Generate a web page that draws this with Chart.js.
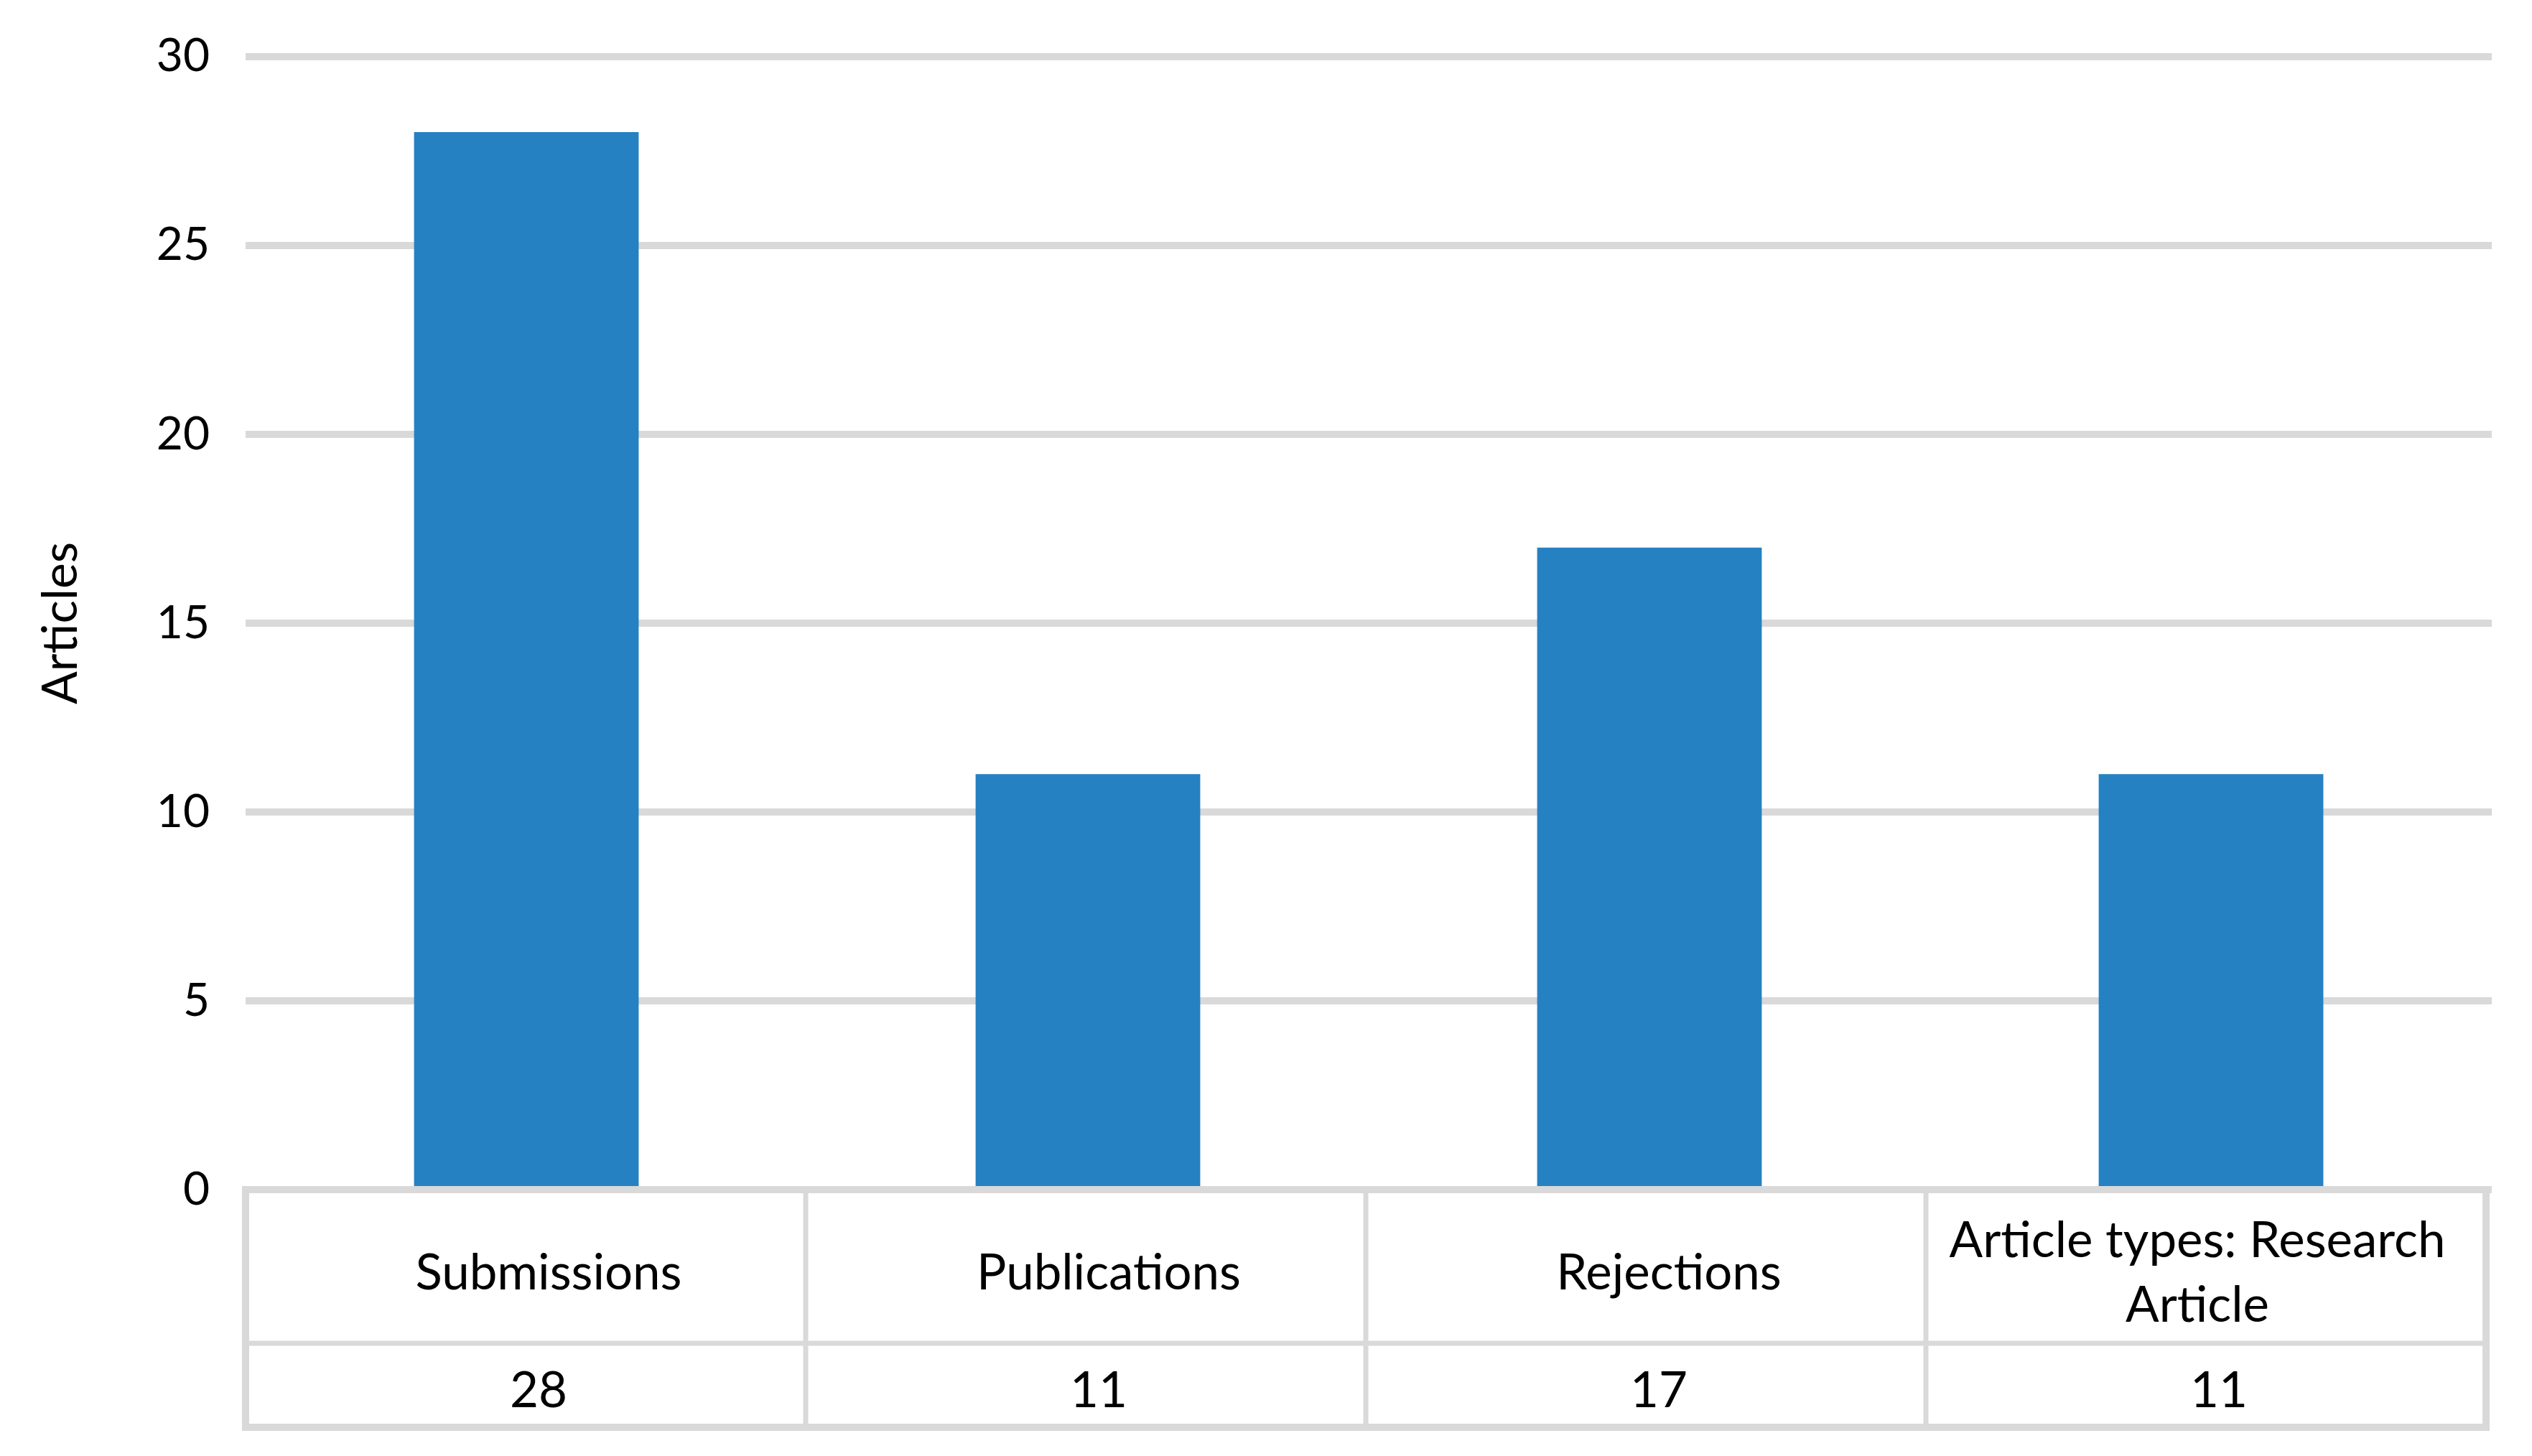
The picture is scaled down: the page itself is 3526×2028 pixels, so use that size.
<!DOCTYPE html>
<html>
<head>
<meta charset="utf-8">
<script src="https://cdn.jsdelivr.net/npm/chart.js@4.4.0/dist/chart.umd.min.js"></script>
<style>
body{margin:0;background:#fff}
#wrap{width:3526px;height:2028px}
</style>
</head>
<body>
<div id="wrap"><canvas id="myChart"></canvas></div>
<script>
var categories = ["Submissions", "Publications", "Rejections", "Article types: Research Article"];
var articles = [28, 11, 17, 11];
var yTicks = [0, 5, 10, 15, 20, 25, 30];
var axisTitle = "Articles";

var gridGrey = "#d9d9d9";
var fontName = "Lato, 'Open Sans', sans-serif";

function wrapText(ctx, text, maxW){
    var words = text.split(" ");
    var lines = [];
    var cur = "";
    words.forEach(function(w){
        var test = cur ? cur + " " + w : w;
        if (ctx.measureText(test).width > maxW && cur) {
            lines.push(cur);
            cur = w;
        } else {
            cur = test;
        }
    });
    if (cur) lines.push(cur);
    return lines;
}

// excel style data table under the bars, columns come from the x scale
var dataTable = {
    id: 'dataTable',
    afterDraw: function(chart){
        var ctx = chart.ctx;
        var xs = chart.scales.x;
        var ys = chart.scales.y;
        var n = categories.length;
        var top = ys.getPixelForValue(0);
        var mid = top + 214;
        var bottom = top + 331;
        var left = xs.left;
        var right = xs.right - 8;
        var colW = (right - left) / n;

        ctx.save();
        ctx.fillStyle = "#fff";
        ctx.fillRect(left, top, right - left, bottom - top);

        ctx.strokeStyle = gridGrey;
        ctx.lineWidth = 7;
        ctx.beginPath();
        for (var i = 1; i < n; i++) {
            var x = left + colW * i;
            ctx.moveTo(x, top);
            ctx.lineTo(x, bottom);
        }
        ctx.moveTo(left, mid);
        ctx.lineTo(right, mid);
        ctx.stroke();

        ctx.lineWidth = 10;
        ctx.strokeRect(left, top, right - left, bottom - top);

        ctx.fillStyle = "#000";
        ctx.font = "69px " + fontName;
        ctx.textAlign = "center";
        ctx.textBaseline = "middle";
        for (var j = 0; j < n; j++) {
            var cx = left + colW * j + colW / 2;
            var lines = wrapText(ctx, categories[j], colW - 60);
            var lh = 90;
            var shift = lines.length > 1 ? -12 : 32;
            var cy = (top + mid) / 2 + 10 - (lines.length - 1) * lh / 2;
            lines.forEach(function(l, k){
                ctx.fillText(l, cx + shift, cy + k * lh);
            });
            ctx.fillText(String(articles[j]), cx + 18, (mid + bottom) / 2 + 8);
        }
        ctx.restore();
    }
};

var ctxB = document.getElementById("myChart").getContext('2d');
var myBarChart = new Chart(ctxB, {
    type: 'bar',
    data: {
        labels: categories,
        datasets: [{
            label: axisTitle,
            data: articles,
            backgroundColor: "#2581C1",
            barPercentage: 0.4,
            categoryPercentage: 1.0
        }]
    },
    options: {
        responsive: true,
        maintainAspectRatio: false,
        animation: false,
        layout: {
            padding: {top: 40, right: 56, bottom: 371, left: 0}
        },
        plugins: {
            legend: {display: false},
            tooltip: {enabled: false}
        },
        scales: {
            x: {
                display: false
            },
            y: {
                min: 0,
                max: 30,
                afterBuildTicks: function(scale){
                    scale.ticks = yTicks.map(function(v){ return {value: v}; });
                },
                afterFit: function(scale){
                    scale.width = 342;
                },
                border: {display: false},
                grid: {
                    color: gridGrey,
                    lineWidth: 10,
                    drawTicks: false
                },
                ticks: {
                    color: "#000",
                    padding: 50,
                    font: {family: fontName, size: 64, lineHeight: 0.9}
                },
                title: {
                    display: true,
                    text: axisTitle,
                    color: "#000",
                    padding: {top: 44, bottom: 0},
                    font: {family: fontName, size: 68}
                }
            }
        }
    },
    plugins: [dataTable]
});
</script>
</body>
</html>
